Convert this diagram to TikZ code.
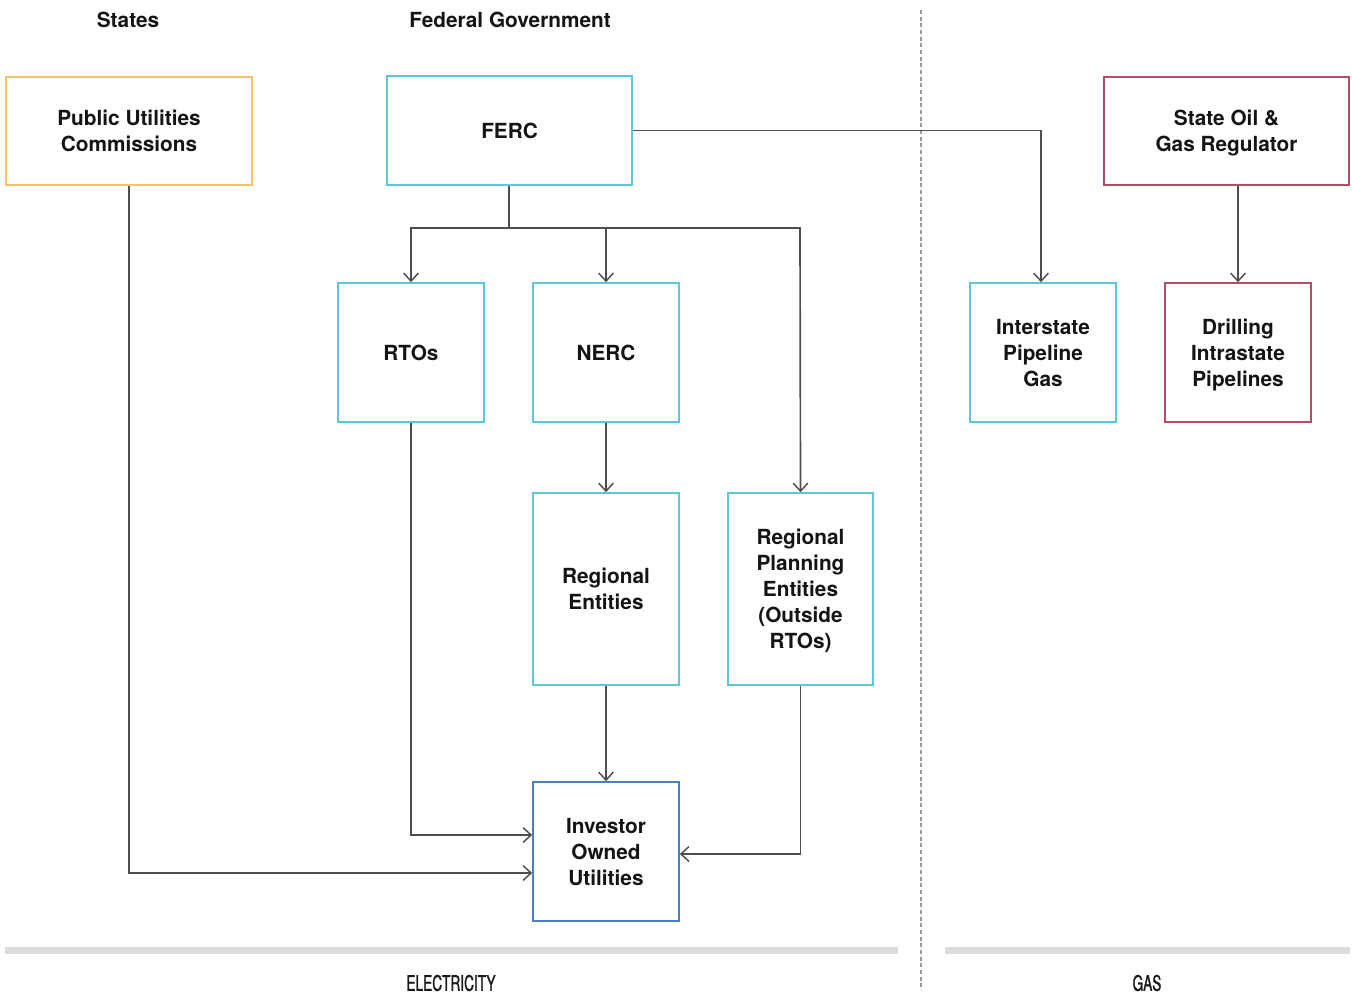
\documentclass[tikz,border=0pt]{standalone}
\usepackage{fontspec}
\setmainfont{TeX Gyre Heros}
\newfontfamily\condfont{TeX Gyre Heros}[FakeStretch=0.64, FakeBold=1.2]
\usetikzlibrary{arrows.meta}
\definecolor{cOrange}{HTML}{F5C46A}
\definecolor{cCyan}{HTML}{5CC6E0}
\definecolor{cRose}{HTML}{B34D63}
\definecolor{cBlue}{HTML}{4A80C0}
\definecolor{cLine}{HTML}{4D4D4D}
\definecolor{cDash}{HTML}{9A9A9A}
\definecolor{cBar}{HTML}{DCDCDC}
\newcommand{\pu}{0.75pt}
\tikzset{
  x=0.75pt, y=-0.75pt,
  box/.style={draw, line width=1.2pt, fill=white, align=center, inner sep=2pt,
    font=\fontsize{15.6}{19.5}\selectfont\bfseries, text=black!92, text depth=-1.2pt},
  smallbox/.style={box, minimum width=146*\pu, minimum height=139*\pu},
  tallbox/.style={box, minimum width=146*\pu, minimum height=192*\pu},
  widebox/.style={box, minimum width=246*\pu, minimum height=108*\pu},
  conn/.style={draw=cLine, line width=1.25pt, -{Straight Barb[length=6pt,width=11pt,line width=1.1pt]}},
  plain/.style={draw=cLine, line width=1.25pt},
  title/.style={font=\fontsize{15.6}{18}\selectfont\bfseries, text=black!92},
  section/.style={font=\fontsize{16}{17}\condfont, text=black!90}
}
\begin{document}
\begin{tikzpicture}
\useasboundingbox (0,0) rectangle (1352,996);
% headings
\node[title] (hStates) at (128,20) {States};
\node[title] (hFed) at (510,20) {Federal Government};
% divider
\draw[cDash, line width=0.9pt, dash pattern=on 3pt off 2pt] (921,10) -- (921,990);
% bars
\fill[cBar] (5,947) rectangle (898,954);
\fill[cBar] (945,947) rectangle (1350,954);
\node[section] (lElec) at (451,983) {ELECTRICITY};
\node[section] (lGas) at (1147,983) {GAS};
% nodes
\node[widebox, draw=cOrange] (puc) at (129,131) {Public Utilities\\Commissions};
\node[widebox, draw=cCyan, minimum width=245*\pu, minimum height=109*\pu] (ferc) at (509.5,130.5) {FERC};
\node[widebox, draw=cRose, minimum width=245*\pu] (sog) at (1226.5,131) {State Oil \&\\Gas Regulator};
\node[smallbox, draw=cCyan] (rto) at (411,352.5) {RTOs};
\node[smallbox, draw=cCyan] (nerc) at (606,352.5) {NERC};
\node[smallbox, draw=cCyan] (isp) at (1043,352.5) {Interstate\\Pipeline\\Gas};
\node[smallbox, draw=cRose] (dip) at (1238,352.5) {Drilling\\Intrastate\\Pipelines};
\node[tallbox, draw=cCyan] (re) at (606,589) {Regional\\Entities};
\node[tallbox, draw=cCyan, minimum width=145*\pu] (rpe) at (800.5,589) {Regional\\Planning\\Entities\\(Outside\\RTOs)};
\node[smallbox, draw=cBlue] (iou) at (606,851.5) {Investor\\Owned\\Utilities};
% junction
\coordinate (j) at (509,228);
\coordinate (jl) at (411,228);
\coordinate (jr) at (800,228);
\draw[plain] (ferc.south -| j) -- (j);
\draw[conn] (j) -- (jl) -- (rto.north);
\draw[conn] (j) -| (nerc.north);
\draw[conn] (j) -- (jr) -- (rpe.north);
\draw[conn] (ferc.east) -| ([xshift=-1.5pt]isp.north);
\draw[conn] (sog.south -| dip.north) -- (dip.north);
\draw[conn] (nerc.south) -- (re.north);
\draw[conn] (re.south) -- (iou.north);
\draw[conn] (rto.south) |- ([yshift=16.5*\pu]iou.west);
\draw[conn] (puc.south) |- ([yshift=-21.5*\pu]iou.west);
\draw[conn] (rpe.south) |- ([yshift=-2.5*\pu]iou.east);
\end{tikzpicture}
\end{document}
